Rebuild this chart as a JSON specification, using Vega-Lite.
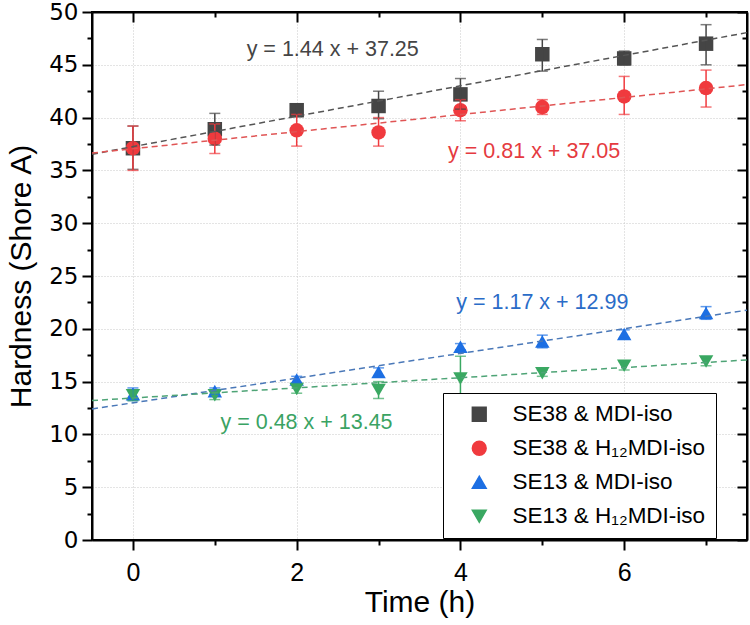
{
  "$schema": "https://vega.github.io/schema/vega-lite/v6.json",
  "autosize": "none",
  "width": 655,
  "height": 528,
  "padding": {"left": 92, "top": 12, "right": 3, "bottom": 85},
  "background": "white",
  "config": {
    "font": "Liberation Sans",
    "view": {"stroke": "black", "strokeWidth": 2},
    "axis": {
      "domainColor": "black",
      "domainWidth": 2,
      "tickColor": "black",
      "tickWidth": 2,
      "labelColor": "black",
      "labelFont": "Liberation Sans",
      "labelFontSize": 25,
      "titleFont": "Liberation Sans",
      "titleFontSize": 30,
      "titleFontWeight": "normal",
      "titleColor": "black",
      "gridColor": "#c8c8c8",
      "gridDash": [1, 2],
      "gridWidth": 1
    }
  },
  "datasets": {
    "points": [
      {"series": "SE38 & MDI-iso", "t": 0, "h": 37.1, "lo": 35.1, "hi": 39.2},
      {"series": "SE38 & MDI-iso", "t": 1, "h": 38.9, "lo": 37.4, "hi": 40.4},
      {"series": "SE38 & MDI-iso", "t": 2, "h": 40.7, "lo": 40.1, "hi": 41.3},
      {"series": "SE38 & MDI-iso", "t": 3, "h": 41.1, "lo": 39.9, "hi": 42.5},
      {"series": "SE38 & MDI-iso", "t": 4, "h": 42.2, "lo": 40.8, "hi": 43.7},
      {"series": "SE38 & MDI-iso", "t": 5, "h": 46.0, "lo": 44.4, "hi": 47.4},
      {"series": "SE38 & MDI-iso", "t": 6, "h": 45.6, "lo": 45.0, "hi": 46.3},
      {"series": "SE38 & MDI-iso", "t": 7, "h": 47.0, "lo": 45.0, "hi": 48.8},
      {"series": "SE38 & H₁₂MDI-iso", "t": 0, "h": 37.1, "lo": 35.0, "hi": 39.2},
      {"series": "SE38 & H₁₂MDI-iso", "t": 1, "h": 38.0, "lo": 36.6, "hi": 39.4},
      {"series": "SE38 & H₁₂MDI-iso", "t": 2, "h": 38.8, "lo": 37.3, "hi": 40.3},
      {"series": "SE38 & H₁₂MDI-iso", "t": 3, "h": 38.6, "lo": 37.3, "hi": 40.0},
      {"series": "SE38 & H₁₂MDI-iso", "t": 4, "h": 40.7, "lo": 39.7, "hi": 41.7},
      {"series": "SE38 & H₁₂MDI-iso", "t": 5, "h": 41.0, "lo": 40.3, "hi": 41.7},
      {"series": "SE38 & H₁₂MDI-iso", "t": 6, "h": 42.0, "lo": 40.3, "hi": 43.9},
      {"series": "SE38 & H₁₂MDI-iso", "t": 7, "h": 42.8, "lo": 41.0, "hi": 44.5},
      {"series": "SE13 & MDI-iso", "t": 0, "h": 13.8, "lo": 13.2, "hi": 14.4},
      {"series": "SE13 & MDI-iso", "t": 1, "h": 14.1, "lo": 13.8, "hi": 14.4},
      {"series": "SE13 & MDI-iso", "t": 2, "h": 15.2, "lo": 14.9, "hi": 15.5},
      {"series": "SE13 & MDI-iso", "t": 3, "h": 15.9, "lo": 15.5, "hi": 16.3},
      {"series": "SE13 & MDI-iso", "t": 4, "h": 18.3, "lo": 18.0, "hi": 18.6},
      {"series": "SE13 & MDI-iso", "t": 5, "h": 18.8, "lo": 18.2, "hi": 19.4},
      {"series": "SE13 & MDI-iso", "t": 6, "h": 19.5, "lo": 19.1, "hi": 19.9},
      {"series": "SE13 & MDI-iso", "t": 7, "h": 21.5, "lo": 20.9, "hi": 22.1},
      {"series": "SE13 & H₁₂MDI-iso", "t": 0, "h": 13.7, "lo": 13.2, "hi": 14.2},
      {"series": "SE13 & H₁₂MDI-iso", "t": 1, "h": 13.7, "lo": 13.3, "hi": 14.1},
      {"series": "SE13 & H₁₂MDI-iso", "t": 2, "h": 14.3, "lo": 13.9, "hi": 14.7},
      {"series": "SE13 & H₁₂MDI-iso", "t": 3, "h": 14.2, "lo": 13.4, "hi": 15.0},
      {"series": "SE13 & H₁₂MDI-iso", "t": 4, "h": 15.3, "lo": 13.3, "hi": 17.4},
      {"series": "SE13 & H₁₂MDI-iso", "t": 5, "h": 15.8, "lo": 15.5, "hi": 16.1},
      {"series": "SE13 & H₁₂MDI-iso", "t": 6, "h": 16.5, "lo": 16.1, "hi": 16.9},
      {"series": "SE13 & H₁₂MDI-iso", "t": 7, "h": 16.9, "lo": 16.5, "hi": 17.3}
    ],
    "fits": [
      {"eq": "y = 1.44 x + 37.25", "t": -0.5, "h": 36.53},
      {"eq": "y = 1.44 x + 37.25", "t": 7.5, "h": 48.05},
      {"eq": "y = 0.81 x + 37.05", "t": -0.5, "h": 36.645},
      {"eq": "y = 0.81 x + 37.05", "t": 7.5, "h": 43.125},
      {"eq": "y = 1.17 x + 12.99", "t": -0.5, "h": 12.405},
      {"eq": "y = 1.17 x + 12.99", "t": 7.5, "h": 21.765},
      {"eq": "y = 0.48 x + 13.45", "t": -0.5, "h": 13.21},
      {"eq": "y = 0.48 x + 13.45", "t": 7.5, "h": 17.05}
    ],
    "notes": [
      {"eq": "y = 1.44 x + 37.25", "t": 2.44, "h": 46.4},
      {"eq": "y = 0.81 x + 37.05", "t": 4.9, "h": 36.7},
      {"eq": "y = 1.17 x + 12.99", "t": 5.0, "h": 22.4},
      {"eq": "y = 0.48 x + 13.45", "t": 2.12, "h": 11.1}
    ]
  },
  "layer": [
    {
      "data": {"name": "points"},
      "mark": {"type": "point", "filled": true, "opacity": 1, "size": 210},
      "encoding": {
        "x": {
          "field": "t", "type": "quantitative", "title": "Time (h)",
          "scale": {"domain": [-0.5, 7.5], "nice": false, "zero": false},
          "axis": {
            "orient": "bottom",
            "values": [0, 1, 2, 3, 4, 5, 6, 7],
            "labelExpr": "datum.value % 2 === 0 ? datum.label : ''",
            "tickSize": {"condition": {"test": "datum.value % 2 === 0", "value": 10}, "value": 5},
            "gridOpacity": {"condition": {"test": "datum.value % 2 === 0", "value": 1}, "value": 0},
            "labelPadding": 10,
            "titlePadding": 2
          }
        },
        "y": {
          "field": "h", "type": "quantitative", "title": "Hardness (Shore A)",
          "scale": {"domain": [0, 50], "nice": false},
          "axis": {
            "orient": "left",
            "values": [0, 2.5, 5, 7.5, 10, 12.5, 15, 17.5, 20, 22.5, 25, 27.5, 30, 32.5, 35, 37.5, 40, 42.5, 45, 47.5, 50],
            "labelExpr": "datum.value % 5 === 0 ? datum.label : ''",
            "labelFont": "DejaVu Sans",
            "labelFontSize": 23,
            "tickSize": {"condition": {"test": "datum.value % 5 === 0", "value": 10}, "value": 5},
            "gridOpacity": {"condition": {"test": "datum.value % 5 === 0", "value": 1}, "value": 0},
            "labelPadding": 4,
            "titlePadding": 12
          }
        },
        "color": {
          "field": "series", "type": "nominal",
          "scale": {
            "domain": ["SE38 & MDI-iso", "SE38 & H₁₂MDI-iso", "SE13 & MDI-iso", "SE13 & H₁₂MDI-iso"],
            "range": ["#454545", "#f03a3e", "#1d6fe3", "#3aa862"]
          },
          "legend": {
            "orient": "none", "legendX": 351, "legendY": 381, "title": null,
            "strokeColor": "black", "fillColor": "white",
            "padding": 10, "symbolOffset": 15, "labelOffset": 22,
            "labelFontSize": 22.5, "labelColor": "black", "labelFont": "Liberation Sans",
            "symbolSize": 190, "rowPadding": 11, "labelLimit": 400
          }
        },
        "shape": {
          "field": "series", "type": "nominal",
          "scale": {
            "domain": ["SE38 & MDI-iso", "SE38 & H₁₂MDI-iso", "SE13 & MDI-iso", "SE13 & H₁₂MDI-iso"],
            "range": ["square", "circle", "triangle-up", "triangle-down"]
          }
        }
      }
    },
    {
      "data": {"name": "points"},
      "mark": {"type": "errorbar", "ticks": {"size": 11}, "thickness": 1.5},
      "encoding": {
        "x": {"field": "t", "type": "quantitative", "axis": null},
        "y": {"field": "lo", "type": "quantitative", "axis": null},
        "y2": {"field": "hi"},
        "color": {"field": "series", "type": "nominal"}
      }
    },
    {
      "data": {"name": "fits"},
      "mark": {"type": "line", "strokeDash": [6, 4], "strokeWidth": 1.5, "clip": true},
      "encoding": {
        "x": {
          "field": "t", "type": "quantitative",
          "axis": {
            "orient": "top", "title": null, "labels": false, "grid": false,
            "values": [0, 1, 2, 3, 4, 5, 6, 7],
            "tickSize": {"condition": {"test": "datum.value % 2 === 0", "value": -10}, "value": -5}
          }
        },
        "y": {
          "field": "h", "type": "quantitative",
          "axis": {
            "orient": "right", "title": null, "labels": false, "grid": false,
            "values": [0, 2.5, 5, 7.5, 10, 12.5, 15, 17.5, 20, 22.5, 25, 27.5, 30, 32.5, 35, 37.5, 40, 42.5, 45, 47.5, 50],
            "tickSize": {"condition": {"test": "datum.value % 5 === 0", "value": -10}, "value": -5}
          }
        },
        "stroke": {
          "field": "eq", "type": "nominal",
          "scale": {
            "domain": ["y = 1.44 x + 37.25", "y = 0.81 x + 37.05", "y = 1.17 x + 12.99", "y = 0.48 x + 13.45"],
            "range": ["#555555", "#e05555", "#4a78b8", "#4ea476"]
          },
          "legend": null
        }
      }
    },
    {
      "data": {"name": "notes"},
      "mark": {"type": "text", "fontSize": 21.5, "font": "Liberation Sans", "align": "center", "baseline": "middle"},
      "encoding": {
        "x": {"field": "t", "type": "quantitative", "axis": null},
        "y": {"field": "h", "type": "quantitative", "axis": null},
        "text": {"field": "eq"},
        "fill": {
          "field": "eq", "type": "nominal",
          "scale": {
            "domain": ["y = 1.44 x + 37.25", "y = 0.81 x + 37.05", "y = 1.17 x + 12.99", "y = 0.48 x + 13.45"],
            "range": ["#454545", "#e53a40", "#2a6cc8", "#3aa363"]
          },
          "legend": null
        }
      }
    }
  ],
  "resolve": {"axis": {"x": "independent", "y": "independent"}}
}
